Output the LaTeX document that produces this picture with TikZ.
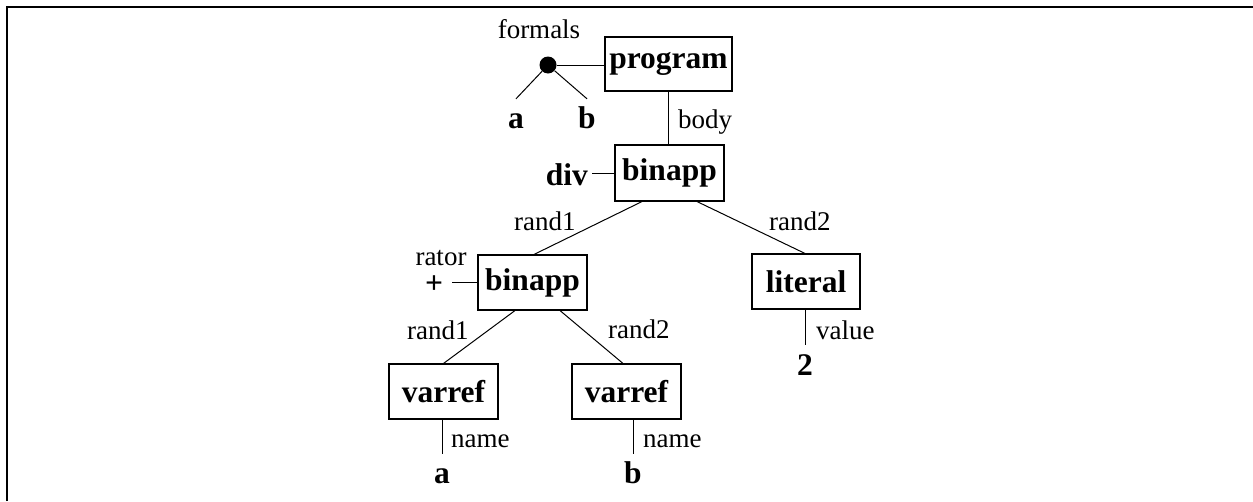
\documentclass[tikz,border=0pt]{standalone}
\usepackage{fontspec}
\setmainfont{Liberation Serif}
\begin{document}
\begin{tikzpicture}[x=1pt,y=-1pt,
  ast/.style={draw, line width=1.1pt, inner sep=0pt, minimum width=109pt,
    minimum height=55pt, font=\fontsize{31.5}{34}\selectfont\bfseries},
  leaf/.style={anchor=base, inner xsep=0pt, inner ysep=8pt, text height=21pt,
    text depth=0pt, font=\fontsize{31.5}{34}\selectfont\bfseries},
  lbl/.style={anchor=base west, inner sep=0pt, font=\fontsize{27}{30}\selectfont},
  edge/.style={line width=1pt}]
\useasboundingbox (0,0) rectangle (1253,501);
% open frame: left and top rules
\draw[line width=2.6pt] (7,501) -- (7,7) -- (1253,7);

% tree nodes
\node[ast, minimum width=127pt, minimum height=54pt] (prog) at (668.5,64) {program};
\node[ast, minimum height=56pt] (b1) at (669.5,173) {binapp};
\node[ast] (b2) at (532.5,282.5) {binapp};
\node[ast, minimum width=108pt] (lit) at (806,281.5) {literal};
\node[ast] (v1) at (443.5,391.5) {varref};
\node[ast] (v2) at (626.5,391.5) {varref};

% formals list
\node[circle, fill, inner sep=0pt, minimum size=17pt] (dot) at (548,65) {};
\node[lbl, anchor=base] (formals) at (539,38) {formals};
\node[leaf] (fa) at (516,128) {a};
\node[leaf] (fb) at (587,128) {b};
\draw[edge] (dot) -- (dot -| prog.west);
\draw[edge] (dot) -- (fa.north);
\draw[edge] (dot) -- (fb.north);

% body
\draw[edge] (prog.south) -- (prog.south |- b1.north);
\node[lbl] (body) at (678,128) {body};

% operator of the outer binapp
\node[anchor=base east, inner ysep=0pt, inner xsep=4pt,
  font=\fontsize{31.5}{34}\selectfont\bfseries] (div) at (592,185) {div};
\draw[edge] (b1.west) -- (b1.west -| div.east);

% operands of the outer binapp
\draw[edge] ([xshift=-27.5pt]b1.south) -- ([xshift=1.5pt]b2.north);
\draw[edge] ([xshift=27.5pt]b1.south) -- ([xshift=-1pt]lit.north);
\node[lbl] (r1a) at (514,230) {rand1};
\node[lbl] (r2a) at (769,230) {rand2};

% operator of the inner binapp
\node[lbl, anchor=base] (rator) at (441,265) {rator};
\node[inner ysep=0pt, inner xsep=9pt,
  font=\fontsize{31.5}{34}\selectfont\bfseries] (plus) at (434,285) {+};
\draw[edge] (b2.west) -- (b2.west -| plus.east);

% operands of the inner binapp
\draw[edge] ([xshift=-17.5pt]b2.south) -- (v1.north);
\draw[edge] ([xshift=27.5pt]b2.south) -- ([xshift=-3.5pt]v2.north);
\node[lbl] (r1b) at (407,339) {rand1};
\node[lbl] (r2b) at (608,338) {rand2};

% literal value
\node[leaf, inner ysep=9pt] (two) at (805,375) {2};
\draw[edge] (two.north |- lit.south) -- (two.north);
\node[lbl] (value) at (816,339) {value};

% variable names
\node[leaf] (na) at (442,483) {a};
\node[leaf] (nb) at (633,483) {b};
\draw[edge] (na.north |- v1.south) -- (na.north);
\draw[edge] (nb.north |- v2.south) -- (nb.north);
\node[lbl] (n1) at (451,447) {name};
\node[lbl] (n2) at (643,447) {name};
\end{tikzpicture}
\end{document}
